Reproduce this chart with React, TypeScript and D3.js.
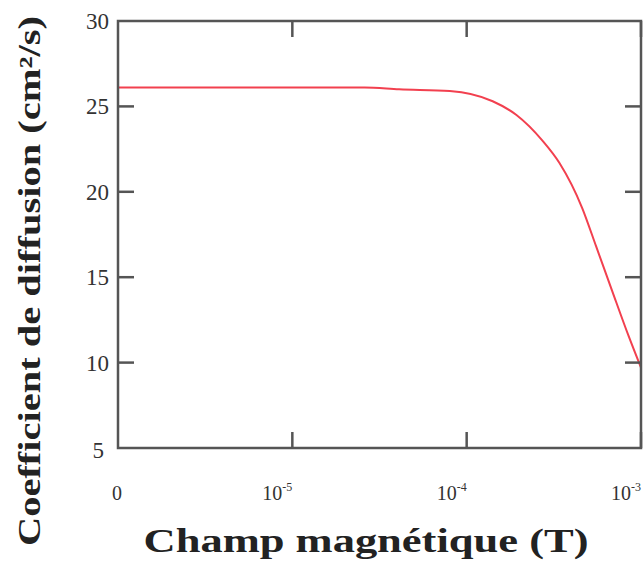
import React from "react";
import * as d3 from "d3";

// Magnetic field (T) — the "0" position is drawn at 1e-6 on the log axis
const fieldValues = [1e-6, 1.1e-5, 2.6e-5, 4.1e-5, 8.0e-5, 1.41e-4, 1.93e-4, 2.72e-4, 3.4e-4, 4.6e-4, 5.53e-4, 6.83e-4, 8.53e-4, 1e-3];
const diffusionValues = [26.1, 26.1, 26.1, 26.0, 25.9, 25.3, 24.5, 23.0, 21.7, 19.05, 16.8, 14.2, 11.5, 9.7];

const xTickValues = [1e-6, 1e-5, 1e-4, 1e-3];
const xTickBases = ["0", "10", "10", "10"];
const xTickExponents = ["", "-5", "-4", "-3"];
const yTickValues = [5, 10, 15, 20, 25, 30];

const W = 643;
const H = 564;
const M = { left: 118, top: 21, right: 641, bottom: 448 };

export default function App() {
  const x = d3.scaleLog().domain([1e-6, 1e-3]).range([M.left, M.right]);
  const y = d3.scaleLinear().domain([5, 30]).range([M.bottom, M.top]);
  const line = d3
    .line<number>()
    .x((_, i) => x(fieldValues[i]))
    .y((d) => y(d))
    .curve(d3.curveMonotoneX);
  const tickLen = 16;
  const axisColor = "#555";
  const font = "'Liberation Serif', 'DejaVu Serif', serif";

  return (
    <svg
      width={W}
      height={H}
      style={{ position: "absolute", left: 0, top: 0, background: "#fff" }}
    >
      <defs>
        <clipPath id="plotclip">
          <rect x={M.left} y={M.top} width={M.right - M.left} height={M.bottom - M.top} />
        </clipPath>
      </defs>
      {/* curve */}
      <path
        d={line(diffusionValues) || ""}
        fill="none"
        stroke="#f2404f"
        strokeWidth={2}
        clipPath="url(#plotclip)"
      />
      {/* frame */}
      <rect
        x={M.left}
        y={M.top}
        width={M.right - M.left}
        height={M.bottom - M.top}
        fill="none"
        stroke={axisColor}
        strokeWidth={2.5}
      />
      {/* y ticks (left & right, inward) */}
      {yTickValues.slice(1, -1).map((v) => (
        <g key={"yt" + v}>
          <line x1={M.left} x2={M.left + tickLen} y1={y(v)} y2={y(v)} stroke={axisColor} strokeWidth={2.5} />
          <line x1={M.right} x2={M.right - tickLen} y1={y(v)} y2={y(v)} stroke={axisColor} strokeWidth={2.5} />
        </g>
      ))}
      {yTickValues.map((v) => (
        <text
          key={"yl" + v}
          x={v === 5 ? 104 : 109}
          y={y(v) + (v === 5 ? 10 : 8)}
          textAnchor="end"
          fontFamily={font}
          fontSize={23}
          fill="#333"
        >
          {v}
        </text>
      ))}
      {/* x ticks (bottom & top, inward) */}
      {xTickValues.slice(1).map((v) => (
        <g key={"xt" + v}>
          <line x1={x(v)} x2={x(v)} y1={M.bottom} y2={M.bottom - tickLen} stroke={axisColor} strokeWidth={2.5} />
          <line x1={x(v)} x2={x(v)} y1={M.top} y2={M.top + tickLen} stroke={axisColor} strokeWidth={2.5} />
        </g>
      ))}
      {xTickValues.map((v, i) => (
        <text
          key={"xl" + v}
          x={i === 0 ? x(v) - 6 : x(v) - 30}
          y={500}
          textAnchor="start"
          fontFamily={font}
          fontSize={20}
          fill="#333"
        >
          {xTickBases[i]}
          {xTickExponents[i] && (
            <tspan dy={-9} fontSize={12}>
              {xTickExponents[i]}
            </tspan>
          )}
        </text>
      ))}
      {/* axis titles */}
      <text
        x={366}
        y={552}
        textAnchor="middle"
        fontFamily={font}
        fontWeight="bold"
        fontSize={33}
        fill="#222"
        textLength={445}
        lengthAdjust="spacingAndGlyphs"
      >
        Champ magnétique (T)
      </text>
      <text
        transform="translate(40,281) rotate(-90)"
        textAnchor="middle"
        fontFamily={font}
        fontWeight="bold"
        fontSize={31}
        fill="#222"
        textLength={530}
        lengthAdjust="spacingAndGlyphs"
      >
        Coefficient de diffusion (cm²/s)
      </text>
    </svg>
  );
}
